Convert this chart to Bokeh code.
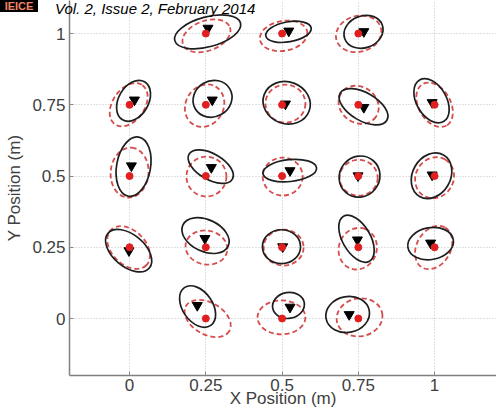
from bokeh.plotting import figure
from bokeh.models import Range1d, FixedTicker, ColumnDataSource, Div
from bokeh.layouts import column
from bokeh.embed import file_html
from bokeh.resources import INLINE

# True (reference) positions, metres
true_x = [0.25, 0.5, 0.75,
          0.0, 0.25, 0.5, 0.75, 1.0,
          0.0, 0.25, 0.5, 0.75, 1.0,
          0.0, 0.25, 0.5, 0.75, 1.0,
          0.25, 0.5, 0.75]
true_y = [1.0, 1.0, 1.0,
          0.75, 0.75, 0.75, 0.75, 0.75,
          0.5, 0.5, 0.5, 0.5, 0.5,
          0.25, 0.25, 0.25, 0.25, 0.25,
          0.0, 0.0, 0.0]

# Estimated positions (triangles)
est_x = [0.257, 0.522, 0.768,
         0.016, 0.271, 0.511, 0.768, 0.992,
         0.006, 0.268, 0.526, 0.749, 0.992,
         -0.002, 0.247, 0.502, 0.747, 0.987,
         0.222, 0.526, 0.720]
est_y = [1.019, 1.009, 1.007,
         0.767, 0.767, 0.753, 0.741, 0.758,
         0.536, 0.530, 0.519, 0.501, 0.504,
         0.238, 0.281, 0.252, 0.276, 0.265,
         0.046, 0.040, 0.014]

# Black (estimated) error ellipses
est_cx = [0.256, 0.521, 0.767,
          0.013, 0.272, 0.515, 0.767, 0.990,
          0.013, 0.266, 0.525, 0.754, 0.990,
          -0.003, 0.249, 0.498, 0.744, 0.987,
          0.223, 0.521, 0.715]
est_cy = [1.006, 1.006, 1.006,
          0.764, 0.771, 0.757, 0.743, 0.764,
          0.533, 0.533, 0.519, 0.498, 0.501,
          0.238, 0.291, 0.252, 0.280, 0.263,
          0.042, 0.046, 0.014]
est_w = [0.223, 0.151, 0.131,
         0.144, 0.131, 0.157, 0.177, 0.157,
         0.197, 0.164, 0.177, 0.138, 0.157,
         0.177, 0.164, 0.125, 0.170, 0.151,
         0.151, 0.105, 0.144]
est_h = [0.105, 0.070, 0.112,
         0.105, 0.126, 0.147, 0.098, 0.105,
         0.119, 0.091, 0.077, 0.140, 0.133,
         0.112, 0.112, 0.119, 0.098, 0.112,
         0.105, 0.091, 0.126]
est_ang = [15, 10, 20,
           60, 30, -20, -30, -60,
           80, -30, 6, 50, 60,
           -40, -25, 0, -60, 10,
           -55, 10, 10]

# Red dashed (true) error ellipses
true_cx = [0.252, 0.505, 0.751,
           -0.003, 0.246, 0.511, 0.751, 1.0,
           0.0, 0.252, 0.502, 0.751, 1.0,
           -0.003, 0.252, 0.505, 0.748, 0.997,
           0.256, 0.498, 0.754]
true_cy = [0.992, 0.992, 0.999,
           0.750, 0.747, 0.754, 0.750, 0.750,
           0.512, 0.498, 0.498, 0.494, 0.494,
           0.249, 0.249, 0.249, 0.245, 0.249,
           0.0, 0.004, 0.004]
true_w = [0.164, 0.157, 0.151,
          0.157, 0.144, 0.131, 0.138, 0.157,
          0.164, 0.131, 0.131, 0.125, 0.138,
          0.164, 0.138, 0.131, 0.138, 0.151,
          0.164, 0.157, 0.151]
true_h = [0.105, 0.105, 0.126,
          0.112, 0.133, 0.133, 0.126, 0.112,
          0.133, 0.140, 0.133, 0.126, 0.133,
          0.119, 0.119, 0.126, 0.133, 0.119,
          0.112, 0.119, 0.133]
true_ang = [20, 10, 15,
            55, 60, 0, -35, -60,
            85, 0, 0, 0, 60,
            -45, -10, 0, 70, 60,
            -30, 0, 10]

ticks = [0, 0.25, 0.5, 0.75, 1]
tick_labels = ["0", "0.25", "0.5", "0.75", "1"]

FONT = "Liberation Sans"

X0, X1 = -0.197, 1.203
Y0, Y1 = -0.2, 1.116

p = figure(width=496, height=412, output_backend="svg", toolbar_location=None,
           x_range=Range1d(X0, X1), y_range=Range1d(Y0, Y1),
           min_border_left=69, min_border_right=0, min_border_top=0,
           min_border_bottom=37)
p.outline_line_color = None

red_src = ColumnDataSource(dict(x=true_cx, y=true_cy, w=true_w, h=true_h, a=true_ang))
blk_src = ColumnDataSource(dict(x=est_cx, y=est_cy, w=est_w, h=est_h, a=est_ang))

p.ellipse(x="x", y="y", width="w", height="h", angle="a", angle_units="deg",
          source=red_src, fill_color=None, line_color="#d23a3a",
          line_width=1.8, line_dash="5 3", line_alpha=0.9)
p.ellipse(x="x", y="y", width="w", height="h", angle="a", angle_units="deg",
          source=blk_src, fill_color=None, line_color="#1e1e1e", line_width=1.7)
p.scatter(est_x, est_y, marker="inverted_triangle", size=10,
          fill_color="black", line_color="black")
p.scatter(true_x, true_y, marker="circle", size=7,
          fill_color="#e02020", line_color="#e02020")

overrides = {t: l for t, l in zip(ticks, tick_labels)}
for ax in (p.xaxis[0], p.yaxis[0]):
    ax.ticker = FixedTicker(ticks=ticks)
    ax.major_label_overrides = overrides
    ax.minor_tick_line_color = None
    ax.major_tick_in = 4
    ax.major_tick_out = 0
    ax.major_tick_line_color = "#888888"
    ax.axis_line_color = "#808080"
    ax.axis_line_width = 1.5
    ax.major_label_text_font = FONT
    ax.major_label_text_font_size = "17px"
    ax.major_label_text_color = "#404040"
    ax.axis_label_text_font = FONT
    ax.axis_label_text_font_size = "17px"
    ax.axis_label_text_font_style = "normal"
    ax.axis_label_text_color = "#404040"
    ax.major_label_standoff = 4

p.xaxis.axis_label = "X Position (m)"
p.yaxis.axis_label = "Y Position (m)"
p.xaxis.major_label_standoff = 3
p.xaxis.axis_label_standoff = -5
p.yaxis.axis_label_standoff = 5

for g in (p.xgrid[0], p.ygrid[0]):
    g.ticker = FixedTicker(ticks=ticks)
    g.grid_line_color = "#c0c0c0"
    g.grid_line_dash = "1 2"
    g.grid_line_width = 1

# Journal banner overlaid on the page's top-left corner
banner_html = (
    '<span style="display:inline-block;width:38px;height:12px;line-height:12px;'
    'background:#000;color:#f3846a;font:bold 11px \'Liberation Sans\';'
    'text-align:center;vertical-align:top;">IEICE</span>'
    '<span style="display:inline-block;margin-left:17px;height:16px;line-height:16px;'
    'font:italic 15px \'Liberation Sans\';color:#000;vertical-align:top;">'
    'Vol. 2, Issue 2, February 2014</span>'
)
banner = Div(text=banner_html, width=300, height=16,
             styles={"position": "absolute", "left": "0px", "top": "0px",
                     "z-index": "10", "background": "transparent",
                     "white-space": "nowrap", "margin": "0px", "padding": "0px"})

layout = column(banner, p, spacing=0)

open("out.html", "w").write(file_html(layout, INLINE))
